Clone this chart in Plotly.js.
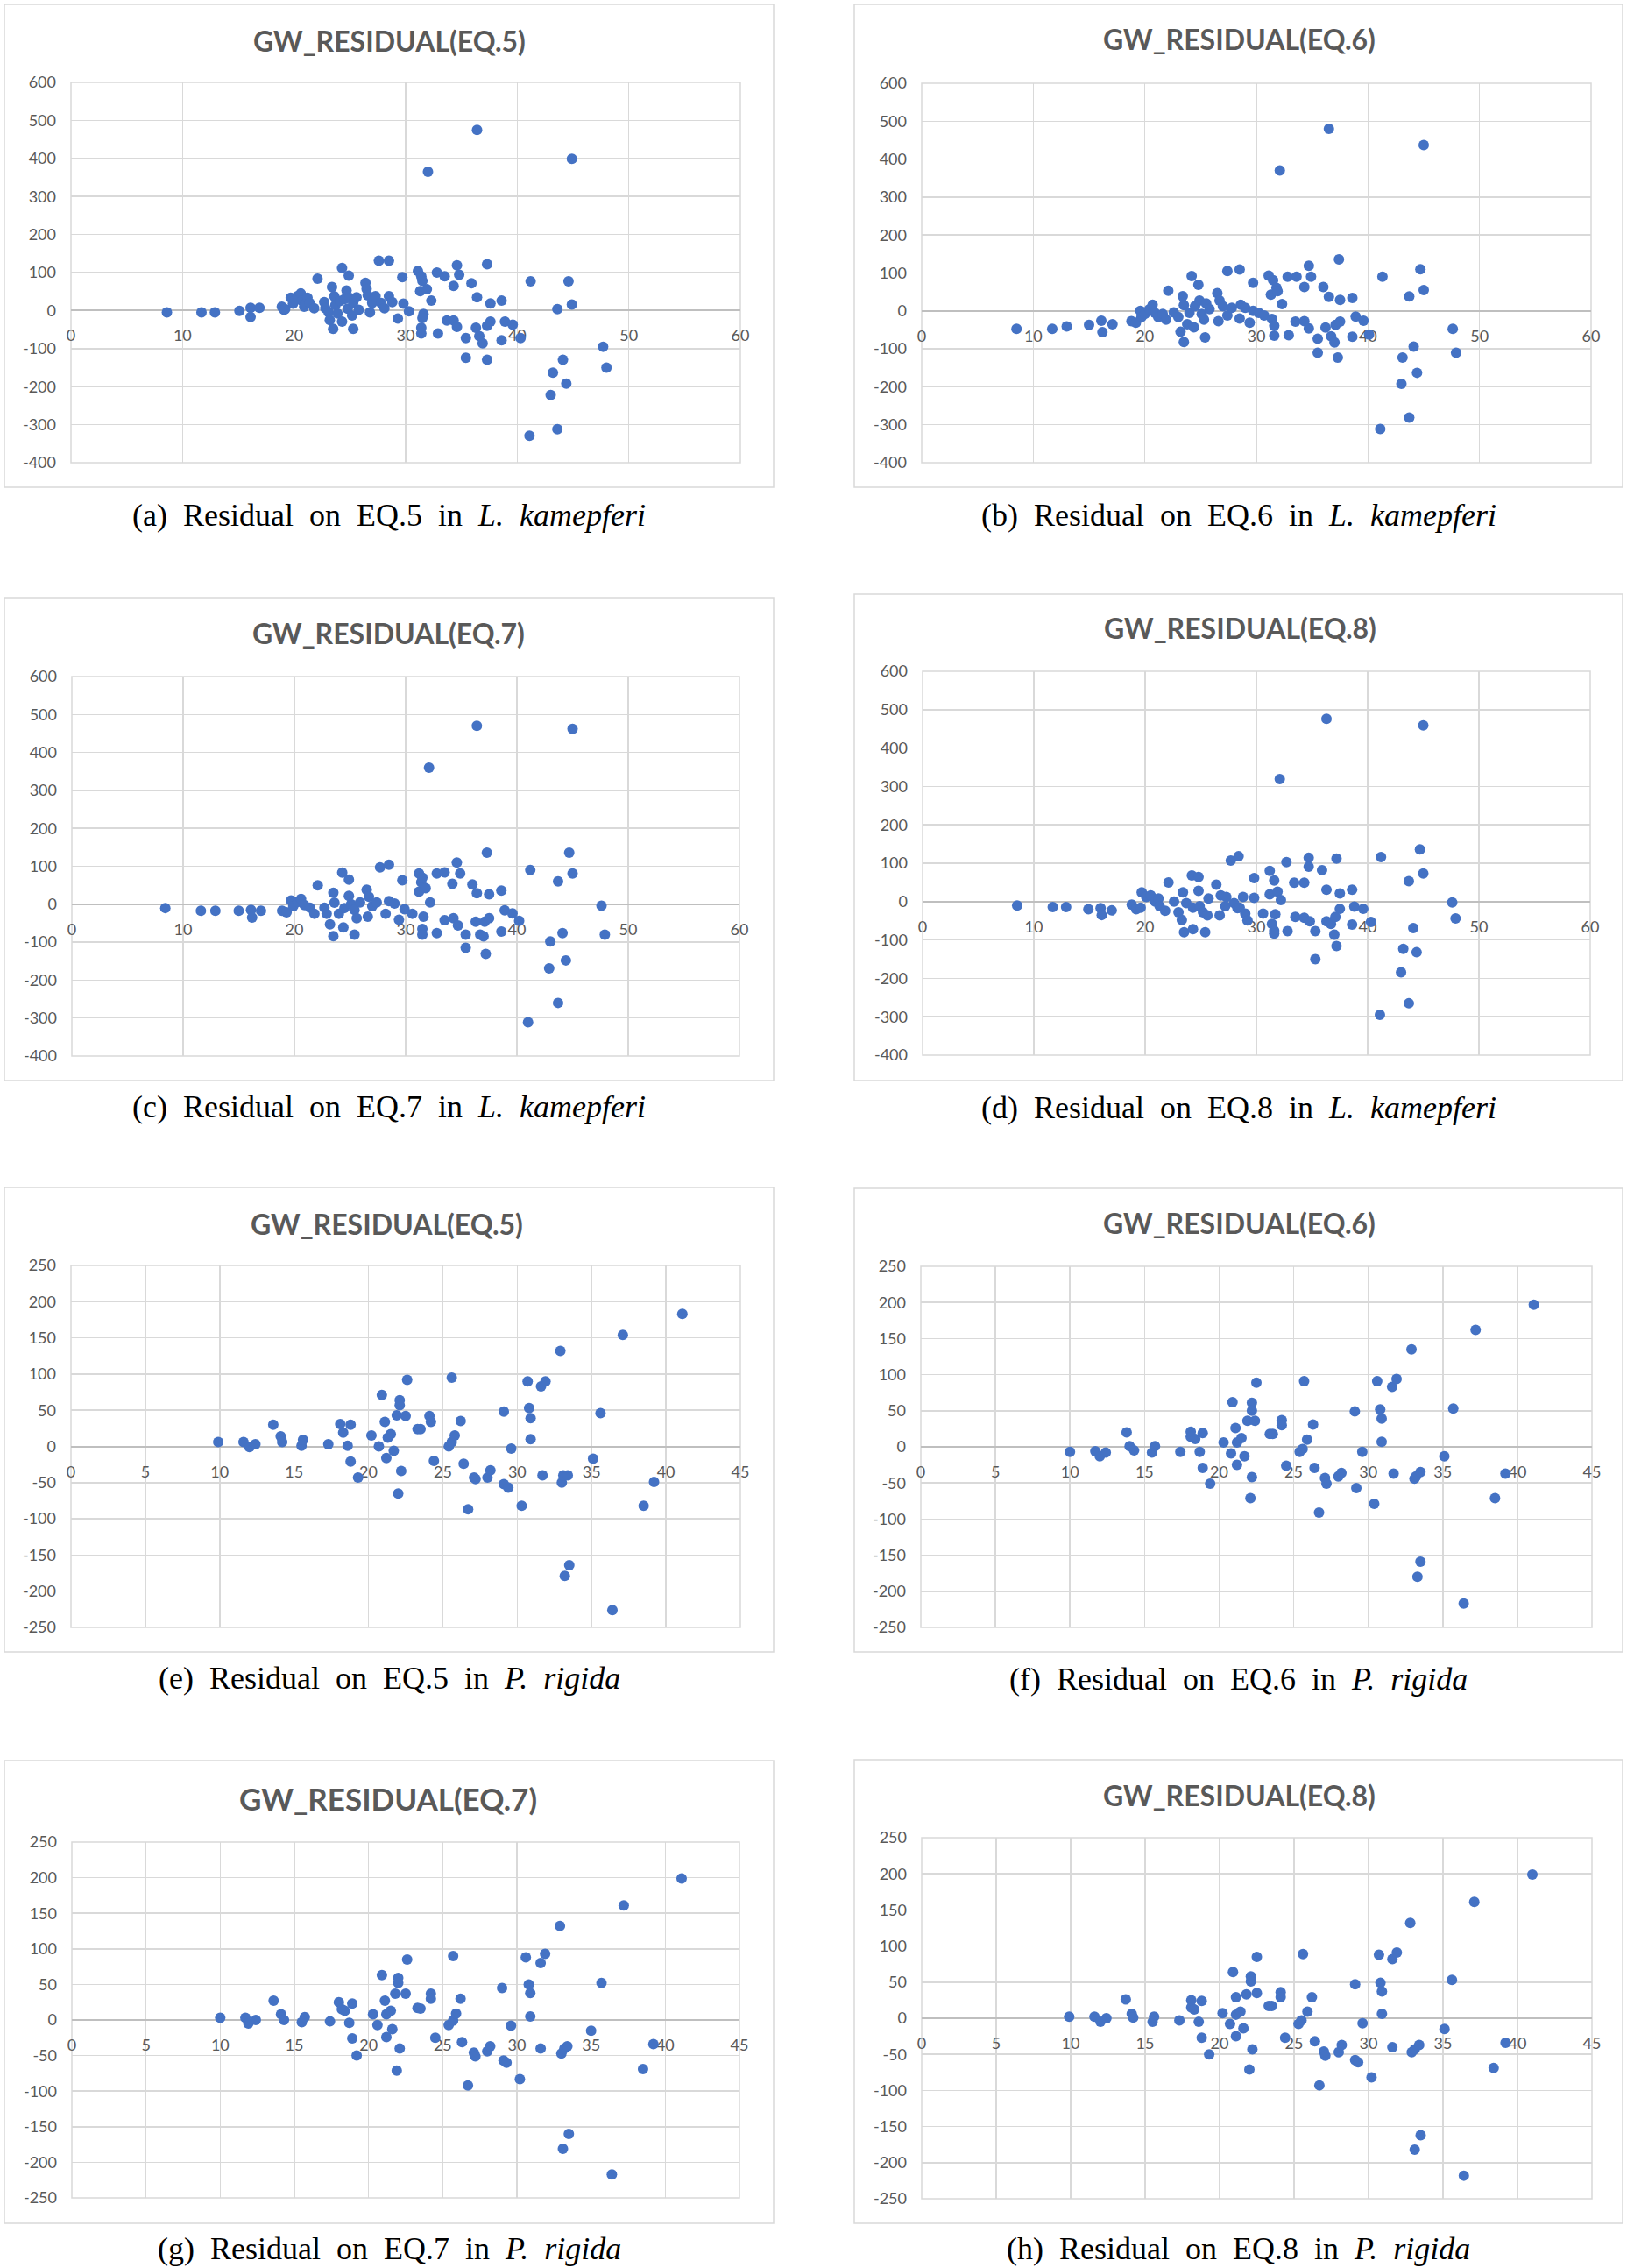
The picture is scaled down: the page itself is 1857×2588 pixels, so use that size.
<!DOCTYPE html>
<html><head><meta charset="utf-8">
<script src="https://cdn.plot.ly/plotly-3.0.1.min.js"></script>
<style>html,body{margin:0;padding:0;background:#fff}#chart{width:1857px;height:2588px}</style>
</head><body><div id="chart"></div>
<script>
// ---------- L. kamepferi (DBH vs residual) ----------
const lkX_eq5 = [8.6,11.7,12.9,15.1,16.1,16.1,16.9,18.9,19.1,19.2,19.7,19.9,20.1,20.3,20.6,20.7,20.9,21.0,21.2,21.4,21.8,22.1,22.7,22.8,23.1,23.2,23.4,23.5,23.6,23.7,23.9,24.1,24.3,24.3,24.5,24.7,24.8,24.9,25.0,25.2,25.3,25.3,25.6,25.8,26.4,26.5,26.6,26.8,27.0,27.3,27.6,27.8,28.1,28.5,28.5,28.8,29.3,29.7,29.8,30.3,31.1,31.3,31.4,31.5,31.6,31.5,31.4,31.4,32.0,31.9,32.3,32.9,32.8,33.5,33.7,34.3,34.3,34.6,34.8,34.6,35.4,35.4,35.9,36.3,36.4,36.4,36.6,36.9,37.3,37.3,37.3,37.6,37.6,38.6,38.6,38.9,39.6,40.3,41.1,41.2,43.0,43.2,43.6,43.6,44.1,44.4,44.6,44.9,44.9,47.7,48.0];
const lkY_eq5 = [-5,-5,-5,-1,7,-17,7,10,2,4,34,18,28,38,45,26,10,18,34,20,6,84,22,6,-5,-25,62,-48,38,14,-8,25,112,-29,30,53,5,92,33,-13,-48,20,35,2,73,57,40,-5,20,38,131,20,6,131,38,22,-21,88,18,-2,104,51,90,78,-9,-20,-45,-60,365,56,26,-60,100,90,-26,65,-26,119,94,-43,-72,-124,72,-45,475,35,-67,-86,122,-129,-40,19,-29,26,-78,-29,-37,-72,-329,77,-222,-163,4,-312,-129,-192,77,399,16,-95,-150];

const lkX_eq6 = [8.5,11.7,13.0,15.0,16.1,16.2,17.1,18.8,19.2,19.6,19.7,20.0,20.4,20.7,20.9,21.2,21.6,21.9,22.1,22.6,23.0,23.2,23.4,23.5,23.5,23.8,24.0,24.2,24.4,24.5,24.8,24.9,25.1,25.3,25.4,25.5,25.8,26.5,26.6,26.7,27.0,27.4,27.4,27.8,28.5,28.5,28.6,29.0,29.4,29.7,29.7,30.2,30.7,31.1,31.3,31.4,31.5,31.6,31.6,31.8,31.9,32.1,32.3,32.8,32.9,33.5,33.6,34.3,34.3,34.7,34.9,34.7,35.5,35.5,36.0,36.2,36.5,36.5,36.7,37.0,37.1,37.3,37.4,37.5,37.5,38.6,38.6,38.9,39.6,40.1,41.1,41.3,43.0,43.1,43.7,43.7,44.1,44.4,44.7,45.0,45.0,47.6,47.9];
const lkY_eq6 = [-47,-47,-41,-37,-26,-56,-35,-27,-31,0,-16,-8,4,16,-5,-16,-8,-23,53,-4,-16,-55,39,-82,15,-35,-5,92,-43,12,69,27,-8,-23,-70,20,5,47,-27,27,12,-12,105,8,-20,109,16,8,-31,74,0,-5,-12,93,43,-21,81,-39,-65,61,52,370,18,90,-64,-28,90,63,-27,119,90,-46,-73,-110,63,-44,480,37,-67,-83,-37,-123,136,29,-28,34,-68,-15,-26,-62,-311,90,-192,-123,38,-281,-94,-163,110,437,55,-47,-110];

const lkX_eq7 = [8.4,11.6,12.9,15.0,16.1,16.2,17.0,18.9,19.3,19.7,19.9,20.3,20.6,20.9,21.4,21.8,22.1,22.7,22.9,23.2,23.5,23.5,23.6,24.0,24.3,24.4,24.5,24.9,24.9,25.1,25.4,25.4,25.6,25.9,26.5,26.6,26.7,27.0,27.4,27.7,28.2,28.5,28.5,29.0,29.4,29.7,29.9,30.6,31.2,31.2,31.4,31.5,31.6,31.5,31.5,31.8,32.1,32.2,32.8,32.8,33.5,33.5,34.2,34.3,34.6,34.7,34.9,35.4,35.4,36.0,36.3,36.4,36.4,36.7,37.0,37.1,37.2,37.3,37.5,37.5,38.6,38.6,38.9,39.6,40.2,41.0,41.2,42.9,43.0,43.7,43.7,44.1,44.4,44.7,45.0,45.0,47.6,47.9];
const lkY_eq7 = [-10,-17,-17,-17,-15,-35,-17,-17,-21,10,-5,6,14,-2,-9,-25,50,-9,-25,-53,30,-84,4,-25,83,-61,-10,65,22,0,-15,-80,-37,5,38,-33,20,-5,5,97,-25,104,8,2,-41,63,-13,-25,81,33,58,70,-33,-65,-80,42,360,5,81,-76,84,-42,54,-37,110,-56,81,-80,-115,52,-46,470,29,-80,-85,-46,-131,136,26,-37,36,-72,-16,-24,-44,-311,90,-169,-98,60,-260,-76,-148,136,462,81,-4,-80];

const lkX_eq8 = [8.5,11.7,12.9,14.9,16.0,16.1,17.0,18.8,19.2,19.7,19.6,20.1,20.5,20.9,21.2,21.3,21.8,22.1,22.6,23.0,23.3,23.4,23.5,23.7,24.2,24.3,24.3,24.8,24.8,24.9,25.2,25.4,25.6,25.7,26.4,26.7,26.8,27.2,27.3,27.7,28.0,28.3,28.4,28.5,28.8,29.0,29.2,29.8,29.8,30.6,31.2,31.2,31.4,31.6,31.6,31.6,31.7,31.9,32.1,32.2,32.7,32.8,33.4,33.5,34.3,34.3,34.7,34.7,34.8,35.3,35.3,35.9,36.3,36.3,36.3,36.7,37.0,37.1,37.2,37.2,37.5,37.5,38.6,38.6,38.8,39.6,40.3,41.1,41.2,43.0,43.2,43.7,43.7,44.1,44.4,44.7,45.0,45.0,47.6,47.9];
const lkY_eq8 = [-10,-14,-14,-20,-17,-35,-23,-8,-20,24,-16,12,16,0,8,-12,-24,50,0,-28,-48,24,-80,-4,68,-72,-16,64,28,-12,-28,-80,-36,8,44,-36,16,-12,12,107,-4,-17,118,-16,12,-31,-49,61,10,-31,80,19,-58,-76,-83,55,-33,26,319,4,103,-77,49,-40,49,-42,114,91,-51,-77,-150,82,31,-51,476,-58,-86,-40,-116,112,21,-19,31,-60,-13,-19,-53,-295,116,-184,-123,53,-265,-69,-132,136,459,73,-2,-44];

// ---------- P. rigida ----------
const prX_eq5 = [9.9,11.6,12.0,12.4,13.6,14.1,14.2,15.5,15.6,17.3,18.1,18.3,18.6,18.8,18.8,19.3,20.2,20.7,20.9,21.1,21.2,21.3,21.5,21.7,21.9,22.0,22.1,22.1,22.2,22.5,22.6,23.3,23.5,24.1,24.2,24.4,25.4,25.6,25.6,25.8,26.2,26.4,26.7,27.1,27.2,28.0,28.2,29.1,29.1,29.4,29.6,30.3,30.7,30.8,30.9,30.9,31.7,31.6,31.9,32.9,33.0,33.1,33.2,33.4,33.5,35.1,35.6,36.4,37.1,38.5,39.2,41.1];
const prY_eq5 = [6,6,-1,3,30,14,6,1,9,3,31,19,1,30,-21,-43,15,0,71,34,-16,12,17,-6,43,-65,64,57,-34,42,92,24,24,42,34,-20,0,6,95,15,35,-24,-87,-43,-45,-43,-33,48,-52,-57,-3,-82,90,53,39,10,-40,83,90,132,-50,-40,-179,-40,-164,-17,46,-226,154,-82,-49,183];

const prX_eq6 = [10.0,11.7,12.0,12.4,13.8,14.0,14.3,15.5,15.7,17.4,18.1,18.1,18.4,18.7,18.9,18.9,19.4,20.3,20.8,20.9,21.1,21.2,21.2,21.5,21.7,21.9,22.1,22.2,22.2,22.2,22.5,22.4,23.4,23.6,24.2,24.2,24.5,25.4,25.6,25.7,25.9,26.3,26.4,26.7,27.1,27.2,28.0,28.2,29.1,29.2,29.6,30.4,30.6,30.8,30.9,30.9,31.7,31.6,31.9,32.9,33.1,33.2,33.3,33.5,33.5,35.1,35.7,36.4,37.2,38.5,39.2,41.1];
const prY_eq6 = [-7,-6,-13,-8,20,1,-5,-8,1,-7,21,14,11,-7,19,-29,-51,6,-9,62,26,6,-25,12,-13,36,-71,61,50,-42,89,36,18,18,37,30,-26,-7,-3,91,10,31,-29,-91,-43,-51,-41,-36,49,-57,-7,-79,91,52,39,7,-37,83,94,135,-44,-41,-180,-35,-159,-13,53,-217,162,-71,-37,197];

const prX_eq7 = [10.0,11.7,11.9,12.4,13.6,14.1,14.3,15.5,15.7,17.4,18.0,18.2,18.4,18.7,18.9,18.9,19.2,20.3,20.6,20.9,21.1,21.2,21.2,21.5,21.6,21.8,21.9,22.0,22.0,22.1,22.5,22.6,23.3,23.5,24.2,24.2,24.5,25.4,25.7,25.7,25.9,26.2,26.3,26.7,27.1,27.2,28.0,28.2,29.0,29.1,29.3,29.6,30.2,30.6,30.8,30.9,30.9,31.6,31.6,31.9,32.9,33.0,33.2,33.1,33.4,33.5,35.0,35.7,36.4,37.2,38.5,39.2,41.1];
const prY_eq7 = [3,3,-5,0,27,8,0,-3,4,-2,25,15,13,-4,23,-26,-50,8,-7,63,27,-24,8,13,-13,37,-71,59,52,-40,37,85,17,16,37,30,-25,-7,-1,90,9,30,-31,-92,-46,-51,-44,-37,45,-57,-60,-8,-83,88,50,38,5,-40,80,93,132,-47,-40,-181,-37,-160,-15,52,-217,161,-69,-34,199];

const prX_eq8 = [9.9,11.6,12.0,12.4,13.7,14.1,14.2,15.5,15.6,17.3,18.1,18.1,18.3,18.6,18.8,18.8,19.3,20.2,20.7,20.9,21.1,21.1,21.1,21.4,21.6,21.8,22.0,22.1,22.1,22.2,22.5,22.5,23.3,23.5,24.1,24.1,24.4,25.3,25.5,25.6,25.9,26.2,26.4,26.7,27.0,27.1,28.0,28.2,29.1,29.1,29.3,29.6,30.2,30.7,30.8,30.9,30.9,31.6,31.6,31.9,32.8,32.9,33.1,33.1,33.4,33.5,35.1,35.6,36.4,37.1,38.4,39.2,41.0];
const prY_eq8 = [2,2,-5,0,26,6,1,-5,2,-3,25,15,12,-5,24,-27,-50,7,-8,64,29,-25,5,9,-14,33,-71,58,51,-43,85,35,17,17,36,29,-27,-8,-3,89,9,29,-32,-93,-46,-52,-47,-37,47,-58,-61,-7,-82,88,49,37,6,-40,82,91,132,-47,-43,-182,-37,-162,-15,53,-218,161,-69,-34,199];

// ---------- tick values ----------
const lkXTicks = [0,10,20,30,40,50,60];
const lkYTicks = [-400,-300,-200,-100,0,100,200,300,400,500,600];
const prXTicks = [0,5,10,15,20,25,30,35,40,45];
const prYTicks = [-250,-200,-150,-100,-50,0,50,100,150,200,250];

// ---------- titles / captions ----------
const chartTitles = ['GW_RESIDUAL(EQ.5)','GW_RESIDUAL(EQ.6)','GW_RESIDUAL(EQ.7)','GW_RESIDUAL(EQ.8)',
                     'GW_RESIDUAL(EQ.5)','GW_RESIDUAL(EQ.6)','GW_RESIDUAL(EQ.7)','GW_RESIDUAL(EQ.8)'];
const captionLabels = ['(a)','(b)','(c)','(d)','(e)','(f)','(g)','(h)'];
const captionEq = ['EQ.5','EQ.6','EQ.7','EQ.8','EQ.5','EQ.6','EQ.7','EQ.8'];
const captionGenus = ['L.','L.','L.','L.','P.','P.','P.','P.'];
const captionSpecies = ['kamepferi','kamepferi','kamepferi','kamepferi','rigida','rigida','rigida','rigida'];

// ---------- layout geometry (pixels) ----------
const W = 1857, H = 2588;
const series = [
  [lkX_eq5, lkY_eq5],[lkX_eq6, lkY_eq6],[lkX_eq7, lkY_eq7],[lkX_eq8, lkY_eq8],
  [prX_eq5, prY_eq5],[prX_eq6, prY_eq6],[prX_eq7, prY_eq7],[prX_eq8, prY_eq8]
];
// plot [l,r,t,b], box [l,r,t,b], title x/y, caption y, title size
const geom = [
  {plot:[81,845,94,528],   box:[5,883,5,556],      tx:444,  ty:46,   cy:588,  ts:32},
  {plot:[1052,1816,95,528],box:[975,1852,5,556],   tx:1414, ty:45,   cy:588,  ts:32},
  {plot:[82,844,772,1205], box:[5,883,682,1233],   tx:443,  ty:722,  cy:1263, ts:32},
  {plot:[1053,1815,766,1204],box:[975,1852,678,1233],tx:1415,ty:716, cy:1264, ts:32},
  {plot:[81,845,1444,1857],box:[5,883,1355,1885],  tx:441,  ty:1396, cy:1915, ts:32},
  {plot:[1051,1817,1445,1857],box:[975,1852,1356,1885],tx:1414,ty:1395,cy:1916, ts:32},
  {plot:[82,844,2102,2508],box:[5,883,2009,2537],  tx:443,  ty:2052, cy:2566, ts:35},
  {plot:[1052,1817,2097,2509],box:[975,1852,2008,2537],tx:1414,ty:2048,cy:2566, ts:32}
];

const traces = [], shapes = [], annotations = [];
const layout = {
  width: W, height: H, margin:{l:0,r:0,t:0,b:0},
  paper_bgcolor:'#ffffff', plot_bgcolor:'#ffffff', showlegend:false,
  font:{family:'Lato, sans-serif', color:'#595959'}
};
const tickFont = {family:'Lato, sans-serif', size:18, color:'#595959'};
const gap = ' \u00A0';

for (let i = 0; i < 8; i++) {
  const k = i === 0 ? '' : String(i + 1);
  const g = geom[i];
  const isLk = i < 4;
  const xr = isLk ? [0,60] : [0,45];
  const yr = isLk ? [-400,600] : [-250,250];
  const xt = isLk ? lkXTicks : prXTicks;
  const yt = isLk ? lkYTicks : prYTicks;
  const xd = [g.plot[0]/W, g.plot[1]/W];
  const yd = [1 - g.plot[3]/H, 1 - g.plot[2]/H];
  const zeroPos = yd[0] + (0 - yr[0]) / (yr[1] - yr[0]) * (yd[1] - yd[0]);

  traces.push({
    type:'scatter', mode:'markers', x: series[i][0], y: series[i][1],
    xaxis:'x'+k, yaxis:'y'+k,
    marker:{color:'#4472C4', size:12, line:{width:0}},
    hoverinfo:'x+y'
  });
  layout['xaxis'+k] = {
    domain: xd, range: xr, anchor:'free', position: zeroPos,
    tickmode:'array', tickvals: xt, ticktext: xt.map(String),
    showgrid:true, gridcolor:'#d9d9d9', gridwidth:1.5,
    zeroline:false, showline:false, ticks:'',
    tickfont: tickFont, ticklabelstandoff: 16, layer:'below traces', fixedrange:true
  };
  layout['yaxis'+k] = {
    domain: yd, range: yr, anchor:'x'+k,
    tickmode:'array', tickvals: yt, ticktext: yt.map(String),
    showgrid:true, gridcolor:'#d9d9d9', gridwidth:1.5,
    zeroline:true, zerolinecolor:'#bfbfbf', zerolinewidth:2,
    showline:false, ticks:'',
    tickfont: tickFont, ticklabelstandoff: 16, fixedrange:true
  };
  // plot-area frame
  shapes.push({type:'rect', xref:'x'+k+' domain', yref:'y'+k+' domain', x0:0, x1:1, y0:0, y1:1,
    line:{color:'#d9d9d9', width:1.5}, layer:'below'});
  // chart-area frame
  shapes.push({type:'rect', xref:'paper', yref:'paper',
    x0:g.box[0]/W, x1:g.box[1]/W, y0:1 - g.box[3]/H, y1:1 - g.box[2]/H,
    line:{color:'#d9d9d9', width:1.5}, layer:'below'});
  // title
  annotations.push({xref:'paper', yref:'paper', x:g.tx/W, y:1 - g.ty/H,
    xanchor:'center', yanchor:'middle', showarrow:false, text: chartTitles[i],
    font:{family:'Lato, sans-serif', size:g.ts, color:'#595959', weight:700}});
  // caption
  const cap = [captionLabels[i], 'Residual', 'on', captionEq[i], 'in'].join(gap) + gap +
              '<i>' + captionGenus[i] + gap + captionSpecies[i] + '</i>';
  annotations.push({xref:'paper', yref:'paper', x:(g.box[0]+g.box[1])/2/W, y:1 - g.cy/H,
    xanchor:'center', yanchor:'middle', showarrow:false, text: cap,
    font:{family:'Liberation Serif, Times New Roman, serif', size:36, color:'#000000'}});
}
layout.shapes = shapes;
layout.annotations = annotations;

Plotly.newPlot('chart', traces, layout, {displayModeBar:false, staticPlot:true});
</script>
</body></html>
